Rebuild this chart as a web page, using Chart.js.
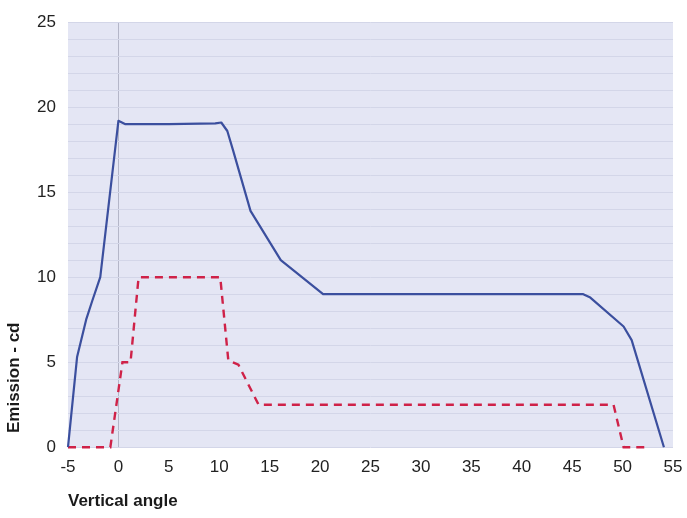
<!DOCTYPE html>
<html>
<head>
<meta charset="utf-8">
<script src="https://cdn.jsdelivr.net/npm/chart.js@4/dist/chart.umd.min.js"></script>
<style>
  html, body { margin: 0; padding: 0; background: #ffffff; }
  #wrap { width: 687px; height: 518px; position: relative; }
</style>
</head>
<body>
<div id="wrap"><canvas id="c"></canvas></div>
<script>
// Vertical angle (deg) and emission (cd)
const blueAngles = [-5, -4.1, -3.2, -2.6, -1.8, 0, 0.7, 5, 9.6, 10.2, 10.8, 11.4, 13.1, 16.1, 20.3, 46.1, 46.8, 50.1, 50.9, 54.1];
const blueValues = [0, 5.3, 7.5, 8.6, 10, 19.2, 19.0, 19.0, 19.05, 19.1, 18.6, 17.4, 13.9, 11, 9, 9, 8.8, 7.1, 6.3, 0];
const redAngles = [-5, -0.8, 0.4, 1.2, 2.0, 10.1, 10.9, 11.9, 13.9, 49.1, 50.1, 52.6];
const redValues = [0, 0, 5, 5, 10, 10, 5.1, 4.85, 2.5, 2.5, 0, 0];
const xTicks = [-5, 0, 5, 10, 15, 20, 25, 30, 35, 40, 45, 50, 55];
const yTicks = [0, 5, 10, 15, 20, 25];
const xTitle = 'Vertical angle';
const yTitle = 'Emission - cd';

const toPts = (xs, ys) => xs.map((x, i) => ({ x: x, y: ys[i] }));

const plotBg = {
  id: 'plotBg',
  beforeDraw(chart) {
    const a = chart.chartArea, ctx = chart.ctx;
    ctx.save();
    ctx.fillStyle = '#e4e6f4';
    ctx.fillRect(a.left, a.top, a.right - a.left, a.bottom - a.top);
    ctx.restore();
  }
};

new Chart(document.getElementById('c'), {
  type: 'line',
  data: {
    datasets: [
      {
        data: toPts(blueAngles, blueValues),
        borderColor: '#3b4f9e',
        borderWidth: 2.2,
        pointRadius: 0,
        tension: 0,
        borderJoinStyle: 'round',
        fill: false,
        clip: false
      },
      {
        data: toPts(redAngles, redValues),
        borderColor: '#cf2248',
        borderWidth: 2.4,
        borderDash: [8, 6],
        pointRadius: 0,
        tension: 0,
        fill: false,
        clip: false
      }
    ]
  },
  options: {
    responsive: true,
    maintainAspectRatio: false,
    animation: false,
    layout: { padding: { top: 10, right: 0, left: 4, bottom: 6 } },
    plugins: { legend: { display: false }, tooltip: { enabled: false } },
    scales: {
      x: {
        type: 'linear',
        min: -5,
        max: 55,
        afterBuildTicks: (s) => { s.ticks = xTicks.map(v => ({ value: v })); },
        afterFit: (s) => { s.paddingRight = 14; },
        border: { display: false },
        grid: {
          color: (c) => (c.tick && c.tick.value === 0) ? '#b4b6c8' : 'rgba(0,0,0,0)',
          drawTicks: false,
          lineWidth: 1
        },
        ticks: {
          color: '#222222',
          font: { family: 'Liberation Sans', size: 17 },
          padding: 10,
          maxRotation: 0,
          autoSkip: false
        },
        title: {
          display: true,
          text: xTitle,
          align: 'start',
          color: '#1a1a1a',
          font: { family: 'Liberation Sans', size: 17, weight: 'bold' },
          padding: { top: 4, bottom: 0 }
        }
      },
      y: {
        type: 'linear',
        min: 0,
        max: 25,
        afterBuildTicks: (s) => {
          const t = [];
          for (let v = 0; v <= 25; v++) t.push({ value: v });
          s.ticks = t;
        },
        afterFit: (s) => { s.width = 64; },
        border: { display: false },
        grid: {
          color: '#d3d6e8',
          drawTicks: false,
          lineWidth: 1
        },
        ticks: {
          color: '#222222',
          font: { family: 'Liberation Sans', size: 17 },
          padding: 12,
          autoSkip: false,
          callback: (v) => yTicks.includes(v) ? String(v) : ''
        },
        title: {
          display: true,
          text: '   ' + yTitle,
          align: 'start',
          color: '#1a1a1a',
          font: { family: 'Liberation Sans', size: 17, weight: 'bold' },
          padding: { top: 0, bottom: 0 }
        }
      }
    }
  },
  plugins: [plotBg]
});
</script>
</body>
</html>
